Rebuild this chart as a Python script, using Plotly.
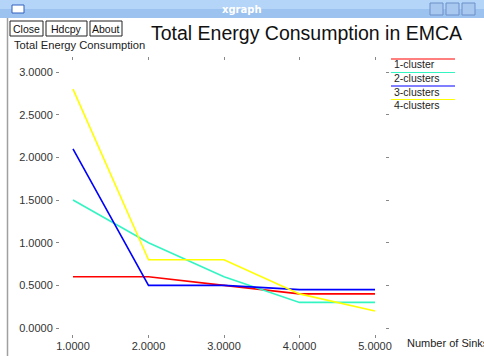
import plotly.graph_objects as go

x_sinks = [1, 2, 3, 4, 5]
series_names = ["1-cluster", "2-clusters", "3-clusters", "4-clusters"]
energy_1 = [0.6, 0.6, 0.5, 0.4, 0.4]
energy_2 = [1.5, 1.0, 0.6, 0.3, 0.3]
energy_3 = [2.1, 0.5, 0.5, 0.45, 0.45]
energy_4 = [2.8, 0.8, 0.8, 0.4, 0.2]
y_ticks = [0, 0.5, 1.0, 1.5, 2.0, 2.5, 3.0]
colors = ["#ff0000", "#33f5c2", "#0000ff", "#ffff00"]

W, H = 484, 356
L, R, T, B = 60, 99, 57, 18  # plot area px 60..385, 57..338

fig = go.Figure()
for name, ys, c in zip(series_names, [energy_1, energy_2, energy_3, energy_4], colors):
    fig.add_trace(go.Scatter(x=x_sinks, y=ys, mode="lines", name=name,
                             line=dict(color=c, width=1.6), showlegend=False))

font = "Liberation Sans, Arial, sans-serif"
fig.update_layout(
    template="none",
    width=W, height=H, margin=dict(l=L, r=R, t=T, b=B, autoexpand=False),
    paper_bgcolor="white", plot_bgcolor="white", showlegend=False,
    font=dict(family=font, size=11, color="#333"),
)
fig.update_xaxes(range=[0.828, 5.132], tickvals=x_sinks,
                 ticktext=[f"{v:.4f}" for v in x_sinks], automargin=False,
                 showgrid=False, zeroline=False, showline=False,
                 ticks="inside", ticklen=3, tickcolor="#888", mirror="ticks",
                 ticklabelstandoff=0, tickfont=dict(size=11, color="#333"))
fig.update_yaxes(range=[-0.117, 3.176], tickvals=y_ticks,
                 ticktext=[f"{v:.4f}" for v in y_ticks], automargin=False,
                 showgrid=False, zeroline=False, showline=False,
                 ticks="outside", ticklen=3, tickcolor="#888", mirror="ticks",
                 ticklabelstandoff=1, tickfont=dict(size=11, color="#333"))

shapes = []
ann = []

def px(xp):
    return (xp - L) / (W - L - R)
def py(yp):
    return 1 - (yp - T) / (H - T - B)

# title bar
shapes.append(dict(type="rect", xref="paper", yref="paper", x0=px(0), x1=px(W), y0=py(18), y1=py(0),
                   fillcolor="#9cc2f0", line_width=0, layer="below"))
shapes.append(dict(type="rect", xref="paper", yref="paper", x0=px(0), x1=px(W), y0=py(9), y1=py(0),
                   fillcolor="#b4d4f8", line_width=0, layer="below"))
# left window border
shapes.append(dict(type="line", xref="paper", yref="paper", x0=px(7.5), x1=px(7.5), y0=py(H), y1=py(18),
                   line=dict(color="#a0a0a0", width=1.5)))
# window icon
shapes.append(dict(type="rect", xref="paper", yref="paper", x0=px(12), x1=px(24), y0=py(13), y1=py(5),
                   fillcolor="white", line=dict(color="#3060c0", width=1)))
# window control buttons
for bx in [430, 446, 462]:
    shapes.append(dict(type="rect", xref="paper", yref="paper", x0=px(bx), x1=px(bx+13), y0=py(15), y1=py(3),
                       fillcolor="#a8c8f0", line=dict(color="#6a90c8", width=1)))
ann.append(dict(text="<b>xgraph</b>", x=px(242), y=py(9), xref="paper", yref="paper", showarrow=False,
                font=dict(family="DejaVu Sans", size=10, color="white"), xanchor="center", yanchor="middle"))
# buttons
for label, x0, x1 in [("Close", 10, 43), ("Hdcpy", 46, 87), ("About", 90, 122)]:
    shapes.append(dict(type="rect", xref="paper", yref="paper", x0=px(x0), x1=px(x1), y0=py(36), y1=py(21),
                       fillcolor="white", line=dict(color="#222", width=1)))
    ann.append(dict(text=label, x=px((x0+x1)/2), y=py(28.5), xref="paper", yref="paper", showarrow=False,
                    font=dict(family=font, size=10.5, color="#111"), xanchor="center", yanchor="middle"))
# main title
ann.append(dict(text="Total Energy Consumption in EMCA", x=px(306), y=py(33), xref="paper", yref="paper",
                showarrow=False, font=dict(family=font, size=19.5, color="#111"),
                xanchor="center", yanchor="middle"))
ann.append(dict(text="Total Energy Consumption", x=px(12), y=py(45), xref="paper", yref="paper",
                showarrow=False, font=dict(family=font, size=11.2, color="#222"),
                xanchor="left", yanchor="middle"))
ann.append(dict(text="Number of Sinks", x=px(405), y=py(343), xref="paper", yref="paper",
                showarrow=False, font=dict(family=font, size=11, color="#222"),
                xanchor="left", yanchor="middle"))
# custom legend
for i, (name, c) in enumerate(zip(series_names, colors)):
    ly = 59 + i * 13.5
    shapes.append(dict(type="line", xref="paper", yref="paper", x0=px(391), x1=px(455), y0=py(ly), y1=py(ly),
                       line=dict(color=c, width=1.2)))
    ann.append(dict(text=name, x=px(392), y=py(ly + 5.5), xref="paper", yref="paper", showarrow=False,
                    font=dict(family=font, size=10.5, color="#222"), xanchor="left", yanchor="middle"))

fig.update_layout(shapes=shapes, annotations=ann)
fig.write_html("out.html", config={"displayModeBar": False},
               post_script="document.body.style.margin='0';document.body.style.overflow='hidden';")
